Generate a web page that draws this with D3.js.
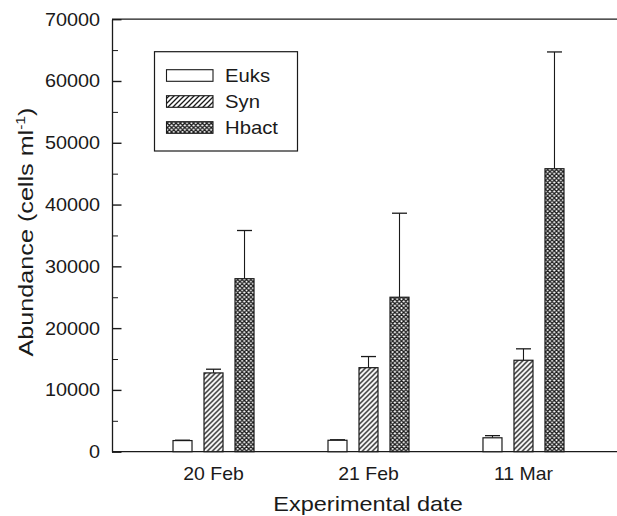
<!DOCTYPE html>
<html>
<head>
<meta charset="utf-8">
<script src="https://cdn.jsdelivr.net/npm/d3@7"></script>
<style>
  html, body { margin: 0; padding: 0; background: #fff; }
  text { font-family: "Liberation Sans", Arial, sans-serif; fill: #1a1a1a; }
</style>
</head>
<body>
<svg id="chart" width="617" height="516"></svg>
<script>
// ---- data ----
const dates = ["20 Feb", "21 Feb", "11 Mar"];
const series = ["Euks", "Syn", "Hbact"];
const euksValues = [1800, 1850, 2250];
const euksErrors = [60, 80, 350];
const synValues = [12750, 13600, 14800];
const synErrors = [600, 1800, 1850];
const hbactValues = [28000, 25000, 45800];
const hbactErrors = [7800, 13600, 18900];
const yTicks = [0, 10000, 20000, 30000, 40000, 50000, 60000, 70000];
const yMinorTicks = [5000, 15000, 25000, 35000, 45000, 55000, 65000];

const valuesBySeries = { Euks: euksValues, Syn: synValues, Hbact: hbactValues };
const errorsBySeries = { Euks: euksErrors, Syn: synErrors, Hbact: hbactErrors };

const svg = d3.select("#chart");
const stroke = "#1a1a1a";

// patterns
const defs = svg.append("defs");
const pSyn = defs.append("pattern").attr("id", "pSyn")
  .attr("patternUnits", "userSpaceOnUse").attr("width", 5).attr("height", 5);
pSyn.append("rect").attr("width", 5).attr("height", 5).attr("fill", "#fff");
pSyn.append("path").attr("d", "M-1,1 l2,-2 M0,5 l5,-5 M4,6 l2,-2")
  .attr("stroke", stroke).attr("stroke-width", 1.3);

const pH = defs.append("pattern").attr("id", "pHbact")
  .attr("patternUnits", "userSpaceOnUse").attr("width", 4.4).attr("height", 4.4);
pH.append("rect").attr("width", 4.4).attr("height", 4.4).attr("fill", "#fff");
pH.append("path").attr("d", "M-1.1,1.1 l2.2,-2.2 M0,4.4 l4.4,-4.4 M3.3,5.5 l2.2,-2.2 M-1.1,3.3 l2.2,2.2 M0,0 l4.4,4.4 M3.3,-1.1 l2.2,2.2")
  .attr("stroke", stroke).attr("stroke-width", 1.3);

const fills = { Euks: "#fff", Syn: "url(#pSyn)", Hbact: "url(#pHbact)" };

// scales
const plotLeft = 112, plotRight = 625, plotTop = 19.2, plotBottom = 451.7;
const y = d3.scaleLinear().domain([0, 70000]).range([plotBottom, plotTop]);
const x0 = d3.scaleBand().domain(dates).range([plotLeft, plotRight]).paddingInner(0).paddingOuter(0.155);
const x1 = d3.scaleBand().domain(series).range([-46.5, 46.5]).paddingInner(0.387).paddingOuter(0.1935);

// frame lines
svg.append("line").attr("x1", plotLeft).attr("x2", 617).attr("y1", plotTop).attr("y2", plotTop)
  .attr("stroke", stroke).attr("stroke-width", 1.2);
svg.append("line").attr("x1", plotLeft).attr("x2", 617).attr("y1", plotBottom).attr("y2", plotBottom)
  .attr("stroke", stroke).attr("stroke-width", 1.3);

// y axis
const yAxis = svg.append("g").attr("transform", `translate(${plotLeft},0)`)
  .call(d3.axisLeft(y).tickValues(yTicks).tickSizeInner(-9.5).tickSizeOuter(0).tickPadding(12).tickFormat(d3.format("d")));
yAxis.select(".domain").attr("stroke", stroke).attr("stroke-width", 1.3);
yAxis.selectAll(".tick line").attr("stroke", stroke).attr("stroke-width", 1.4);
yAxis.selectAll("text").style("font-size", "18.6px").attr("fill", "#1a1a1a")
  .attr("x", 0).attr("transform", "translate(-12,0) scale(1.065,1)");

const yMinor = svg.append("g").attr("transform", `translate(${plotLeft},0)`)
  .call(d3.axisLeft(y).tickValues(yMinorTicks).tickSizeInner(-6).tickSizeOuter(0).tickFormat(""));
yMinor.select(".domain").remove();
yMinor.selectAll(".tick line").attr("stroke", stroke).attr("stroke-width", 1);

// x axis labels
const xAxis = svg.append("g").attr("transform", `translate(0,${plotBottom})`)
  .call(d3.axisBottom(x0).tickSize(0).tickPadding(15));
xAxis.select(".domain").remove();
xAxis.selectAll("text").style("font-size", "18.2px").attr("fill", "#1a1a1a")
  .attr("transform", "scale(1.07,1)");

// bars
const groups = svg.append("g").selectAll("g").data(dates).join("g")
  .attr("transform", d => `translate(${x0(d) + x0.bandwidth() / 2},0)`);

groups.each(function (date, i) {
  const g = d3.select(this);
  series.forEach(s => {
    const v = valuesBySeries[s][i];
    const e = errorsBySeries[s][i];
    const bx = x1(s);
    const cx = bx + x1.bandwidth() / 2;
    g.append("line").attr("x1", cx).attr("x2", cx).attr("y1", y(v)).attr("y2", y(v + e))
      .attr("stroke", stroke).attr("stroke-width", 1.1);
    g.append("line").attr("x1", cx - 7.5).attr("x2", cx + 7.5).attr("y1", y(v + e)).attr("y2", y(v + e))
      .attr("stroke", stroke).attr("stroke-width", 1.3);
    g.append("rect").attr("x", bx).attr("y", y(v)).attr("width", x1.bandwidth()).attr("height", y(0) - y(v))
      .attr("fill", fills[s]).attr("stroke", stroke).attr("stroke-width", 1.2);
  });
});

// legend
const lg = svg.append("g");
lg.append("rect").attr("x", 154.5).attr("y", 51.7).attr("width", 143).attr("height", 99.3)
  .attr("fill", "#fff").attr("stroke", stroke).attr("stroke-width", 1.2);
const legendY = d3.scalePoint().domain(series).range([75.5, 127.5]);
series.forEach(s => {
  lg.append("rect").attr("x", 166.5).attr("y", legendY(s) - 5.8).attr("width", 46.5).attr("height", 11.6)
    .attr("fill", fills[s]).attr("stroke", stroke).attr("stroke-width", 1.1);
  lg.append("text").attr("transform", `translate(225,${legendY(s) + 6.3}) scale(1.14,1)`)
    .text(s).style("font-size", "17.8px");
});

// axis titles
svg.append("text").attr("transform", "translate(368,511.3) scale(1.12,1)").attr("text-anchor", "middle")
  .style("font-size", "21px").text("Experimental date");

const yt = svg.append("text").attr("transform", "translate(33,232) rotate(-90)")
  .attr("text-anchor", "middle").style("font-size", "21px");
yt.append("tspan").text("Abundance (cells ml");
yt.append("tspan").attr("dy", -8).style("font-size", "13px").text("-1");
yt.append("tspan").attr("dy", 8).text(")");
const ytLen = yt.node().getBBox().width;
const ytScale = Math.min(1.25, Math.max(1.0, 249 / ytLen));
yt.attr("transform", `translate(33,232) rotate(-90) scale(${ytScale},1)`);
</script>
</body>
</html>
